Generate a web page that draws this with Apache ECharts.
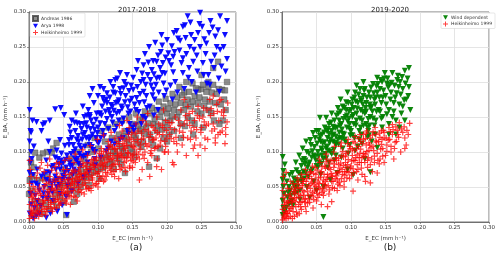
<!DOCTYPE html>
<html>
<head>
<meta charset="utf-8">
<script src="https://cdn.jsdelivr.net/npm/echarts@6/dist/echarts.min.js"></script>
<style>
  html, body { margin: 0; padding: 0; background: #fff; }
  #chart { width: 500px; height: 255px; }
</style>
</head>
<body>
<div id="chart"></div>
<script>
// 2017-2018 panel (a)
const andreas1986 = [
  [.009,.099],[.026,.1],[.033,.099],[.04,.113],[.02,.098],[.035,.105],[.015,.092],[.003,.085],[.001,.06],[.005,.065],[.012,.06],[.02,.062],[0,.04],[.008,.03],
  [.01,.015],[.015,.02],[.02,.012],[.025,.025],[.03,.018],[.035,.03],[.04,.022],[.045,.035],[.05,.028],[.054,.01],[.065,.029],[.055,.04],[.06,.045],[.07,.04],[.075,.05],
  [.03,.05],[.04,.06],[.05,.055],[.06,.065],[.065,.07],[.07,.06],[.075,.075],[.08,.065],[.085,.08],[.09,.07],[.095,.085],[.1,.075],[.105,.09],[.11,.08],[.115,.095],[.12,.085],
  [.125,.1],[.13,.09],[.135,.105],[.139,.07],[.14,.095],[.145,.11],[.15,.1],[.08,.09],[.09,.1],[.1,.105],[.11,.115],[.12,.12],[.13,.125],[.14,.13],[.15,.14],[.16,.145],
  [.07,.085],[.085,.11],[.095,.12],[.105,.13],[.115,.135],[.125,.14],[.135,.145],[.145,.15],[.155,.155],[.06,.09],[.07,.1],[.05,.075],[.045,.05],
  [.155,.12],[.16,.13],[.165,.115],[.17,.135],[.174,.079],[.175,.125],[.18,.14],[.185,.091],[.185,.13],[.19,.15],[.195,.12],[.2,.155],[.2,.135],[.205,.145],[.21,.16],
  [.21,.13],[.215,.15],[.22,.17],[.22,.14],[.225,.16],[.23,.175],[.23,.15],[.235,.165],[.24,.18],[.24,.14],[.245,.17],[.25,.19],[.25,.155],[.255,.175],[.26,.2],[.26,.16],
  [.265,.185],[.274,.229],[.27,.17],[.275,.19],[.267,.22],[.28,.189],[.283,.175],[.285,.16],[.281,.145],[.25,.21],[.287,.2],[.245,.189],[.237,.198],[.26,.193],[.225,.185],
  [.215,.178],[.205,.17],[.195,.165],[.185,.16],[.175,.155],[.165,.15],[.268,.145],[.276,.14],[.252,.135],[.238,.125],[.22,.12],[.19,.105],[.18,.11],[.2,.115],
  [.058,.052],[.063,.057],[.068,.049],[.072,.068],[.078,.058],[.083,.071],[.087,.064],[.092,.079],[.097,.072],[.102,.084],[.107,.077],[.112,.092],[.117,.083],[.122,.101],
  [.127,.094],[.132,.108],[.137,.099],[.142,.118],[.147,.105],[.152,.124],[.157,.112],[.162,.133],[.167,.126],[.172,.141],[.177,.118],[.182,.147],[.187,.138],[.192,.158],
  [.197,.143],[.202,.162],[.207,.151],[.212,.168],[.217,.157],[.222,.181],[.227,.167],[.232,.186],[.237,.172],[.242,.191],[.247,.178],[.252,.196],[.257,.186],[.262,.172],
  [.267,.196],[.272,.183],[.278,.168],[.284,.188],[.118,.107],[.128,.116],[.138,.122],[.148,.131],[.158,.138],[.168,.158],[.178,.163],[.188,.172],[.198,.176],[.208,.183],
  [.218,.193],[.228,.2],[.244,.158],[.254,.166],[.264,.156],[.236,.145],[.226,.137],[.203,.125],[.193,.132],[.163,.107],[.153,.093],[.133,.083],[.123,.076],[.102,.062],
  [.087,.053],[.043,.043],[.038,.039],[.028,.034],[.017,.028],[.006,.009],[.004,.045],[.027,.064],[.007,.078]
];
const arya1998 = [
  [.001,.16],[.002,.13],[.001,.115],[.003,.1],[.002,.085],[.001,.07],[.004,.055],[.002,.04],[.003,.025],[.001,.012],[.005,.145],[.004,.09],
  [.011,.143],[.018,.13],[.023,.141],[.03,.145],[.038,.161],[.046,.163],[.051,.153],[.059,.136],[.07,.141],[.045,.117],[.02,.139],[.06,.128],[.064,.11],[.028,.115],
  [.008,.02],[.012,.03],[.015,.045],[.02,.035],[.022,.05],[.025,.06],[.028,.04],[.03,.07],[.033,.055],[.035,.08],[.038,.065],[.04,.05],[.042,.09],[.045,.075],[.048,.06],
  [.05,.085],[.018,.065],[.012,.075],[.01,.055],[.025,.088],[.03,.1],[.04,.102],[.047,.098],[.055,.01],[.025,.006],[.015,.012],[.035,.03],[.045,.04],
  [.052,.07],[.055,.095],[.058,.11],[.06,.08],[.062,.12],[.065,.1],[.067,.13],[.07,.09],[.072,.115],[.074,.14],[.076,.105],[.078,.125],[.08,.15],[.082,.095],[.084,.135],
  [.086,.16],[.088,.11],[.09,.145],[.092,.125],[.094,.17],[.096,.1],[.098,.155],[.1,.135],[.1,.18],[.057,.06],[.065,.075],[.075,.08],[.085,.085],[.095,.09],[.068,.155],
  [.078,.165],[.088,.18],[.062,.145],[.092,.19],[.083,.12],[.073,.097],[.097,.12],[.088,.15],[.079,.14],[.069,.118],
  [.102,.155],[.104,.12],[.106,.165],[.108,.19],[.11,.14],[.112,.175],[.114,.105],[.116,.16],[.118,.2],[.12,.15],[.122,.185],[.124,.13],[.126,.17],[.128,.205],[.13,.145],
  [.132,.19],[.134,.165],[.136,.12],[.138,.2],[.14,.18],[.142,.21],[.144,.155],[.146,.172],[.148,.195],[.15,.135],[.103,.193],[.113,.184],[.122,.193],[.137,.191],[.125,.203],
  [.132,.213],[.117,.155],[.103,.155],[.088,.153],[.107,.13],[.113,.17],[.13,.174],[.119,.115],[.135,.14],[.127,.155],[.143,.13],[.109,.172],[.121,.165],
  [.151,.189],[.156,.177],[.151,.206],[.156,.217],[.166,.203],[.166,.224],[.166,.186],[.178,.217],[.18,.189],[.185,.229],[.183,.256],[.191,.243],[.192,.267],[.193,.213],
  [.194,.227],[.195,.198],[.155,.16],[.16,.17],[.162,.2],[.165,.15],[.17,.18],[.172,.21],[.175,.165],[.177,.195],[.18,.23],[.182,.175],[.185,.205],[.188,.185],[.19,.22],
  [.196,.18],[.198,.235],[.158,.23],[.168,.24],[.174,.25],[.163,.14],[.187,.16],[.152,.13],[.146,.14],
  [.2,.26],[.202,.241],[.206,.224],[.209,.236],[.209,.214],[.21,.27],[.214,.273],[.219,.259],[.223,.279],[.226,.281],[.223,.234],[.223,.213],[.23,.294],[.233,.25],[.235,.267],
  [.238,.229],[.245,.27],[.248,.299],[.248,.25],[.251,.279],[.252,.227],[.254,.261],[.261,.27],[.264,.229],[.266,.278],[.272,.25],[.277,.294],[.277,.246],[.287,.287],[.287,.233],
  [.205,.195],[.212,.2],[.218,.245],[.228,.24],[.232,.22],[.24,.26],[.244,.215],[.256,.24],[.26,.21],[.268,.22],[.27,.265],[.282,.25],[.215,.185],[.225,.19],[.236,.2],
  [.258,.198],[.285,.215],[.275,.205],[.242,.185],[.208,.175],
  [.031,.047],[.037,.058],[.043,.083],[.049,.066],[.053,.089],[.057,.073],[.061,.097],[.063,.081],[.067,.104],[.069,.087],[.071,.123],[.073,.109],[.077,.118],[.079,.093],
  [.081,.127],[.083,.141],[.087,.118],[.089,.133],[.091,.107],[.093,.139],[.097,.146],[.099,.127],[.101,.113],[.103,.141],[.105,.152],[.107,.177],[.109,.123],[.111,.158],
  [.113,.147],[.115,.133],[.117,.178],[.119,.167],[.121,.142],[.123,.159],[.125,.184],[.127,.136],[.129,.171],[.131,.157],[.133,.183],[.135,.162],[.137,.148],[.139,.171],
  [.141,.196],[.143,.164],[.145,.187],[.147,.158],[.149,.176],[.153,.168],[.157,.193],[.159,.157],[.161,.183],[.164,.212],[.167,.171],[.169,.196],[.171,.163],[.173,.228],
  [.176,.203],[.179,.181],[.181,.211],[.184,.196],[.187,.238],[.189,.206],[.193,.252],[.197,.212],[.199,.188],[.203,.23],[.207,.251],[.211,.243],[.216,.262],[.221,.227],
  [.227,.263],[.231,.206],[.234,.285],[.239,.246],[.243,.238],[.247,.283],[.253,.21],[.257,.255],[.263,.287],[.269,.238],[.274,.274],[.279,.222],[.284,.267],[.276,.186],
  [.262,.196],[.017,.023],[.021,.041],[.027,.033],[.029,.058],[.034,.042],[.039,.075],[.041,.061],[.044,.053],[.047,.082],[.051,.063],[.054,.078],[.056,.052],[.059,.085],
  [.063,.067],[.066,.091],[.068,.072],[.072,.083],[.076,.094],[.081,.108],[.085,.097],[.089,.121],[.093,.103],[.095,.132],[.099,.114],[.084,.152],[.076,.133],[.066,.142],
  [.058,.117],[.052,.109],[.046,.088],[.038,.092],[.033,.078],[.026,.071],[.022,.068],[.013,.052],[.009,.038],[.006,.067],[.007,.108],[.003,.128],[.006,.005],[.011,.009],
  [.031,.012],[.041,.015],[.048,.024],[.054,.036],[.062,.044],[.071,.055],[.079,.064],[.087,.072],[.096,.081],[.104,.092],[.112,.101],[.124,.111],[.132,.118],[.144,.126],
  [.154,.138],[.169,.148],[.181,.152]
];
const heikinheimoA = [
  [.001,.005],[.002,.015],[.001,.025],[.003,.035],[.002,.045],[.001,.055],[.003,.065],[.002,.075],[.001,.088],[.004,.02],[.005,.01],[.004,.04],
  [.008,.005],[.01,.012],[.012,.02],[.014,.008],[.016,.025],[.018,.015],[.02,.03],[.022,.018],[.024,.01],[.026,.035],[.028,.022],[.03,.04],[.032,.028],[.034,.015],
  [.036,.045],[.038,.032],[.04,.02],[.042,.05],[.044,.038],[.046,.027],[.048,.055],[.05,.042],[.01,.04],[.015,.05],[.02,.06],[.025,.055],[.03,.065],[.035,.06],[.04,.07],
  [.045,.065],[.05,.075],[.018,.085],[.03,.09],[.04,.085],[.012,.07],
  [.052,.03],[.054,.048],[.056,.06],[.058,.038],[.06,.052],[.062,.07],[.064,.045],[.066,.058],[.068,.035],[.07,.065],[.072,.05],[.074,.078],[.076,.042],[.078,.06],[.08,.07],
  [.082,.052],[.084,.085],[.086,.065],[.088,.048],[.09,.075],[.092,.06],[.094,.09],[.096,.07],[.098,.055],[.1,.08],[.055,.075],[.065,.085],[.075,.09],[.085,.095],[.095,.1],
  [.06,.025],[.07,.03],[.08,.04],[.09,.045],[.1,.05],[.073,.068],[.083,.075],[.093,.082],[.063,.062],[.053,.055],
  [.102,.065],[.104,.09],[.106,.075],[.108,.058],[.11,.085],[.112,.1],[.114,.07],[.116,.09],[.118,.11],[.12,.08],[.122,.095],[.124,.065],[.126,.105],[.128,.088],[.13,.115],
  [.132,.075],[.134,.098],[.136,.12],[.138,.085],[.14,.105],[.142,.092],[.144,.125],[.146,.08],[.148,.11],[.15,.095],[.105,.105],[.115,.115],[.125,.12],[.135,.13],[.145,.135],
  [.11,.06],[.12,.068],[.13,.062],[.14,.072],[.15,.078],[.108,.08],[.118,.098],[.128,.1],[.138,.11],[.148,.12],
  [.152,.115],[.154,.085],[.156,.1],[.158,.13],[.16,.09],[.162,.11],[.164,.075],[.166,.12],[.168,.1],[.17,.14],[.172,.085],[.174,.11],[.176,.125],[.178,.095],[.18,.135],
  [.182,.105],[.184,.12],[.186,.09],[.188,.14],[.19,.11],[.192,.075],[.194,.125],[.196,.1],[.198,.145],[.2,.12],[.16,.06],[.175,.065],[.155,.14],[.165,.145],[.185,.15],
  [.195,.16],[.185,.079],[.146,.077],[.197,.1],
  [.202,.1],[.205,.135],[.208,.085],[.21,.115],[.212,.15],[.215,.1],[.218,.13],[.22,.16],[.222,.11],[.225,.14],[.228,.095],[.23,.12],[.232,.155],[.235,.13],[.238,.105],
  [.24,.145],[.242,.12],[.245,.165],[.248,.11],[.25,.135],[.252,.15],[.255,.12],[.258,.16],[.26,.14],[.262,.175],[.265,.13],[.268,.155],[.27,.12],[.272,.168],[.275,.145],
  [.278,.175],[.28,.13],[.283,.16],[.285,.125],[.288,.17],[.24,.11],[.255,.105],[.27,.113],[.285,.135],[.245,.095],[.21,.082],[.225,.175],[.267,.18],[.23,.165],[.276,.174],
  [.003,.009],[.005,.029],[.006,.051],[.007,.017],[.009,.033],[.011,.025],[.013,.044],[.015,.016],[.017,.038],[.019,.022],[.021,.047],[.023,.031],[.025,.019],[.027,.043],
  [.029,.057],[.031,.025],[.033,.048],[.035,.037],[.037,.021],[.039,.058],[.041,.042],[.043,.029],[.045,.052],[.047,.046],[.049,.034],[.051,.061],[.053,.041],[.055,.033],
  [.057,.052],[.059,.068],[.061,.044],[.063,.055],[.065,.037],[.067,.072],[.069,.054],[.071,.043],[.073,.061],[.075,.069],[.077,.053],[.079,.081],[.081,.064],[.083,.047],
  [.085,.071],[.087,.059],[.089,.084],[.091,.067],[.093,.052],[.095,.078],[.097,.088],[.099,.069],[.101,.058],[.103,.082],[.105,.097],[.107,.066],[.109,.092],[.111,.071],
  [.113,.086],[.115,.104],[.117,.077],[.119,.089],[.121,.107],[.123,.072],[.125,.083],[.127,.112],[.129,.095],[.131,.082],[.133,.121],[.135,.092],[.137,.104],[.139,.078],
  [.141,.116],[.143,.099],[.147,.093],[.149,.128],[.151,.087],[.153,.106],[.157,.118],[.159,.097],[.163,.127],[.167,.091],[.169,.112],[.173,.13],[.177,.102],[.179,.117],
  [.183,.131],[.187,.108],[.189,.125],[.193,.138],[.197,.115],[.199,.131],[.204,.125],[.207,.142],[.213,.121],[.217,.145],[.223,.128],[.227,.152],[.233,.138],[.237,.158],
  [.243,.132],[.247,.148],[.253,.163],[.257,.138],[.263,.152],[.267,.14],[.273,.158],[.277,.128],[.282,.152],[.287,.143],
  [.011,.063],[.016,.077],[.022,.072],[.027,.081],[.033,.074],[.038,.079],[.044,.083],[.052,.088],[.058,.091],[.067,.097],[.078,.103],[.089,.109],[.099,.118],[.108,.124],
  [.119,.128],[.131,.138],[.142,.145],[.157,.15],[.172,.155],
  [.004,.013],[.006,.037],[.008,.024],[.009,.047],[.012,.014],[.014,.032],[.016,.041],[.019,.011],[.021,.027],[.023,.052],[.024,.038],[.026,.015],[.028,.031],[.029,.046],
  [.032,.019],[.034,.053],[.036,.028],[.038,.047],[.041,.033],[.042,.062],[.044,.024],[.046,.058],[.048,.041],[.051,.049],[.053,.068],[.054,.027],[.056,.043],[.058,.061],
  [.061,.036],[.062,.057],[.064,.074],[.066,.049],[.068,.063],[.071,.058],[.072,.074],[.074,.046],[.076,.064],[.078,.084],[.081,.056],[.082,.069],[.084,.079],[.086,.048],
  [.088,.076],[.091,.089],[.092,.063],[.094,.081],[.096,.054],[.098,.092],[.101,.072],[.102,.098],[.104,.062],[.106,.084],[.108,.101],[.111,.079],[.112,.065],[.114,.094],
  [.116,.108],[.118,.074],[.121,.091],[.122,.082],[.124,.104],[.126,.075],[.128,.093],[.131,.108],[.132,.096],[.134,.077],[.136,.112],[.138,.093],[.141,.087],[.142,.109],
  [.144,.098],[.146,.118],[.148,.088],[.151,.108],[.152,.097],[.154,.126],[.156,.092],[.158,.113],[.161,.104],[.163,.118],[.165,.096],[.168,.132],[.171,.108],[.174,.121],
  [.176,.098],[.178,.138],[.181,.118],[.184,.106],[.186,.128],[.191,.116],[.194,.135],[.198,.108],[.203,.142],[.206,.119],[.211,.132],[.214,.112],[.219,.138],[.224,.121],
  [.229,.145],[.234,.118],[.239,.135],[.244,.152],[.249,.128],[.254,.143],[.259,.118],[.264,.162],[.269,.133],[.274,.125],[.279,.157],[.284,.112]
];

// 2019-2020 panel (b)
const windDependent = [
  [.001,.01],[.002,.02],[.001,.03],[.003,.04],[.002,.05],[.001,.06],[.002,.073],[.001,.093],[.004,.015],[.003,.065],
  [.006,.02],[.008,.035],[.01,.025],[.012,.045],[.014,.03],[.016,.055],[.018,.04],[.02,.06],[.022,.05],[.024,.07],[.026,.045],[.028,.08],[.03,.06],[.032,.09],[.034,.07],
  [.036,.1],[.038,.065],[.04,.085],[.042,.11],[.044,.075],[.046,.095],[.048,.12],[.05,.08],[.041,.117],[.055,.149],[.05,.13],[.045,.127],[.035,.115],[.03,.105],[.025,.095],
  [.02,.085],[.015,.07],[.01,.05],[.04,.035],[.05,.045],[.06,.05],[.07,.06],[.08,.07],[.095,.075],[.103,.067],[.128,.071],[.138,.106],[.12,.09],
  [.052,.1],[.054,.085],[.056,.115],[.058,.125],[.06,.09],[.062,.135],[.064,.105],[.066,.12],[.068,.14],[.07,.1],[.072,.13],[.074,.115],[.076,.145],[.078,.11],[.08,.135],
  [.082,.155],[.084,.12],[.086,.14],[.088,.165],[.09,.125],[.092,.15],[.094,.135],[.096,.17],[.098,.14],[.1,.16],[.081,.163],[.09,.163],[.064,.149],[.058,.095],[.068,.085],
  [.078,.095],[.088,.105],[.098,.11],[.06,.007],[.072,.155],[.085,.175],[.095,.185],[.1,.13],[.065,.13],[.075,.125],[.083,.145],[.093,.16],[.057,.105],[.053,.13],[.07,.118],
  [.102,.175],[.104,.14],[.106,.185],[.108,.155],[.11,.17],[.112,.13],[.113,.19],[.114,.16],[.116,.145],[.118,.18],[.12,.19],[.12,.155],[.122,.17],[.124,.135],[.126,.185],
  [.128,.15],[.13,.165],[.132,.197],[.134,.175],[.136,.145],[.138,.206],[.138,.185],[.14,.16],[.142,.19],[.144,.17],[.146,.15],[.148,.205],[.149,.213],[.15,.18],[.105,.12],
  [.115,.125],[.125,.13],[.135,.125],[.145,.135],[.11,.108],[.13,.115],[.139,.197],[.128,.178],[.108,.195],[.118,.2],[.102,.15],[.122,.14],
  [.152,.198],[.155,.16],[.158,.185],[.16,.213],[.162,.17],[.165,.145],[.166,.184],[.168,.209],[.17,.168],[.171,.2],[.173,.155],[.175,.19],[.178,.216],[.18,.175],[.183,.18],
  [.184,.193],[.184,.22],[.186,.16],[.155,.14],[.16,.15],[.17,.135],[.178,.145],[.163,.195],[.157,.175],[.153,.205],[.175,.165],[.145,.2],[.165,.125],[.155,.125],
  [.013,.038],[.017,.062],[.019,.048],[.021,.074],[.023,.058],[.027,.067],[.029,.088],[.031,.072],[.033,.083],[.037,.078],[.039,.098],[.043,.092],[.047,.107],[.049,.088],
  [.051,.112],[.053,.094],[.055,.123],[.057,.083],[.059,.112],[.061,.128],[.063,.097],[.065,.108],[.067,.133],[.069,.113],[.071,.142],[.073,.123],[.075,.103],[.077,.134],
  [.079,.152],[.081,.118],[.083,.128],[.085,.158],[.087,.132],[.089,.147],[.091,.118],[.093,.171],[.095,.144],[.097,.158],[.099,.124],[.101,.168],[.103,.153],[.105,.178],
  [.107,.138],[.109,.162],[.111,.182],[.113,.148],[.115,.173],[.117,.157],[.119,.188],[.121,.163],[.123,.178],[.125,.147],[.127,.168],[.129,.192],[.131,.158],[.133,.184],
  [.135,.168],[.137,.194],[.141,.178],[.143,.203],[.147,.188],[.151,.168],[.154,.192],[.159,.199],[.164,.178],[.169,.193],[.174,.207],[.179,.198],[.106,.102],[.116,.112],
  [.096,.098],[.086,.092],[.076,.088],[.066,.078],[.056,.068],[.046,.058],[.036,.05],[.026,.032],[.016,.024],[.009,.042],[.007,.058],[.004,.082],[.011,.067],[.124,.121],
  [.134,.138],[.144,.148],[.114,.135],
  [.012,.028],[.018,.052],[.022,.042],[.028,.058],[.032,.062],[.034,.088],[.038,.082],[.042,.072],[.044,.101],[.048,.093],[.052,.078],[.054,.118],[.058,.102],[.062,.114],
  [.064,.091],[.068,.126],[.072,.097],[.074,.136],[.078,.122],[.082,.111],[.084,.138],[.088,.126],[.092,.114],[.094,.152],[.098,.133],[.102,.124],[.104,.163],[.108,.145],
  [.112,.118],[.114,.176],[.118,.138],[.122,.158],[.126,.124],[.128,.163],[.132,.148],[.136,.178],[.142,.158],[.146,.178],[.152,.154],[.156,.196],[.162,.158],[.167,.203],
  [.172,.182],[.177,.174],[.182,.205],[.087,.119],[.077,.113],[.067,.102],[.097,.148],[.107,.172],[.117,.168],[.127,.138],[.137,.158]
];
const heikinheimoB = [
  [.001,.003],[.002,.01],[.001,.018],[.003,.025],[.002,.035],[.001,.045],[.003,.055],[.002,.065],[.004,.008],[.005,.015],
  [.006,.005],[.008,.012],[.01,.02],[.012,.008],[.014,.028],[.016,.015],[.018,.035],[.02,.022],[.022,.01],[.024,.04],[.026,.028],[.028,.018],[.03,.045],[.032,.033],[.034,.022],
  [.036,.05],[.038,.038],[.04,.028],[.042,.055],[.044,.042],[.046,.032],[.048,.06],[.05,.046],[.012,.04],[.018,.05],[.024,.058],[.03,.062],[.036,.068],[.042,.072],[.048,.078],
  [.01,.03],[.02,.045],[.03,.055],[.04,.065],[.015,.005],[.025,.012],[.035,.015],[.045,.02],[.05,.03],
  [.052,.035],[.054,.055],[.056,.07],[.058,.042],[.06,.06],[.062,.08],[.064,.05],[.066,.068],[.068,.04],[.07,.075],[.072,.029],[.072,.058],[.074,.088],[.076,.048],[.078,.07],
  [.08,.06],[.082,.082],[.084,.052],[.086,.095],[.088,.068],[.09,.058],[.092,.085],[.094,.072],[.096,.1],[.098,.062],[.1,.08],[.055,.085],[.065,.09],[.075,.1],[.085,.108],
  [.095,.112],[.06,.038],[.08,.045],[.09,.05],[.073,.065],[.083,.072],[.093,.078],[.063,.058],[.053,.05],[.057,.025],[.066,.022],
  [.102,.095],[.104,.07],[.103,.044],[.106,.088],[.108,.105],[.11,.075],[.112,.092],[.114,.115],[.116,.068],[.118,.098],[.12,.085],[.122,.11],[.124,.078],[.126,.102],[.128,.12],
  [.128,.056],[.13,.09],[.132,.108],[.134,.085],[.136,.125],[.138,.07],[.138,.098],[.14,.115],[.142,.09],[.144,.13],[.146,.105],[.148,.12],[.15,.095],[.135,.135],[.145,.118],
  [.11,.06],[.12,.065],[.148,.085],[.115,.085],[.125,.092],[.103,.115],[.113,.125],[.123,.13],
  [.152,.11],[.155,.135],[.158,.1],[.16,.125],[.16,.139],[.162,.09],[.165,.136],[.166,.115],[.17,.142],[.172,.1],[.175,.128],[.178,.12],[.18,.11],[.183,.125],[.185,.141],
  [.168,.125],[.156,.118],[.163,.105],
  [.003,.006],[.004,.022],[.005,.039],[.007,.013],[.009,.027],[.011,.016],[.013,.034],[.015,.022],[.017,.043],[.019,.029],[.021,.014],[.023,.048],[.025,.035],[.027,.022],
  [.029,.052],[.031,.038],[.033,.028],[.035,.058],[.037,.044],[.039,.033],[.041,.048],[.043,.062],[.045,.037],[.047,.053],[.049,.068],[.051,.041],[.053,.063],[.055,.047],
  [.057,.072],[.059,.055],[.061,.044],[.063,.077],[.065,.061],[.067,.052],[.069,.083],[.071,.066],[.073,.049],[.075,.078],[.077,.062],[.079,.088],[.081,.071],[.083,.057],
  [.085,.084],[.087,.075],[.089,.093],[.091,.067],[.093,.098],[.095,.082],[.097,.071],[.099,.105],[.101,.087],[.103,.076],[.105,.102],[.107,.092],[.109,.082],[.111,.108],
  [.113,.098],[.115,.077],[.117,.112],[.119,.094],[.121,.119],[.123,.101],[.127,.11],[.131,.124],[.133,.102],[.137,.114],[.141,.127],[.143,.104],[.147,.131],[.151,.12],
  [.157,.129],[.167,.131],[.177,.136],[.141,.083],[.131,.072],[.121,.058],[.016,.055],[.022,.063],[.028,.068],[.034,.075],[.044,.08],[.054,.09],[.064,.097],[.076,.108],
  [.086,.113],[.096,.118],[.106,.122],[.118,.125],[.008,.048],[.006,.071],[.012,.058],
  [.004,.03],[.006,.012],[.007,.028],[.009,.006],[.011,.037],[.013,.019],[.014,.047],[.016,.031],[.018,.008],[.019,.041],[.021,.034],[.022,.054],[.024,.025],[.026,.049],
  [.027,.038],[.029,.029],[.031,.058],[.032,.043],[.034,.033],[.036,.062],[.037,.027],[.039,.052],[.041,.071],[.042,.038],[.044,.057],[.046,.069],[.047,.044],[.049,.051],
  [.051,.074],[.052,.057],[.054,.039],[.056,.064],[.058,.079],[.059,.048],[.061,.068],[.062,.053],[.064,.086],[.066,.064],[.068,.077],[.069,.046],[.071,.088],[.072,.069],
  [.074,.058],[.076,.083],[.078,.092],[.079,.066],[.081,.054],[.082,.091],[.084,.077],[.086,.062],[.088,.101],[.089,.081],[.091,.072],[.092,.094],[.094,.063],[.096,.089],
  [.098,.108],[.099,.077],[.101,.067],[.102,.104],[.104,.088],[.106,.113],[.108,.072],[.109,.096],[.111,.119],[.112,.085],[.114,.104],[.116,.092],[.118,.118],[.121,.097],
  [.122,.127],[.124,.088],[.126,.113],[.128,.082],[.129,.106],[.132,.129],[.134,.094],[.136,.116],[.139,.088],[.142,.121],[.144,.111],[.146,.094],[.148,.128],[.152,.101],
  [.154,.117],[.158,.108],[.161,.132],[.164,.114],[.169,.121],[.173,.133],[.181,.131],[.178,.105]
];

const tickStep = 0.05;
const axisMax = 0.3;
const plusIcon = "path://M4,0H6V4H10V6H6V10H4V6H0V4H4Z";
const downTri = "path://M0,0L10,0L5,9Z";
const font = "DejaVu Sans";

function makeAxis(idx, isY) {
  return {
    gridIndex: idx, type: "value", min: 0, max: axisMax, interval: tickStep,
    name: isY ? "E_BA, (mm h\u207B\u00B9)" : "E_EC (mm h\u207B\u00B9)",
    nameLocation: "middle", nameGap: isY ? 20 : 11, nameRotate: isY ? 90 : 0,
    nameTextStyle: { fontSize: 5.5, color: "#333", fontFamily: font },
    axisLine: { show: true, onZero: false, lineStyle: { color: "#555", width: 0.8 } },
    axisTick: { show: true, length: 2, lineStyle: { color: "#555", width: 0.6 } },
    axisLabel: { fontSize: 5.5, color: "#333", fontFamily: font, margin: 3, formatter: v => v.toFixed(2) },
    splitLine: { show: true, lineStyle: { color: "#dedede", width: 0.8 } }
  };
}
function legendBox(left, top, names) {
  return {
    data: names, left: left, top: top, orient: "vertical",
    itemWidth: 5, itemHeight: 5, itemGap: 1.5, padding: [2, 3, 2, 2],
    backgroundColor: "#fff", borderColor: "#ccc", borderWidth: 0.5, borderRadius: 1,
    textStyle: { fontSize: 4.5, color: "#333", fontFamily: font, padding: [0, 0, 0, -2] },
    selectedMode: false
  };
}
function titleText(text, x, y, size) {
  return { text: text, left: x, top: y, textAlign: "center",
    textStyle: { fontSize: size, fontWeight: "normal", color: "#222", fontFamily: font } };
}

const chart = echarts.init(document.getElementById("chart"), null, { renderer: "canvas" });
chart.setOption({
  backgroundColor: "#fff",
  animation: false,
  title: [
    titleText("2017-2018", 132, 2, 7),
    titleText("2019-2020", 385, 2, 7),
    titleText("(a)", 131, 238, 9),
    titleText("(b)", 385, 238, 9)
  ],
  legend: [
    legendBox(30, 13, ["Andreas 1986", "Arya 1998", "Heikinheimo 1999"]),
    legendBox(441, 13, ["Wind dependent", "Heikinheimo 1999"])
  ],
  grid: [
    { left: 29, top: 12, width: 207, height: 210, show: true, borderColor: "#555", borderWidth: 0.8, backgroundColor: "transparent" },
    { left: 282, top: 12, width: 207, height: 210, show: true, borderColor: "#555", borderWidth: 0.8, backgroundColor: "transparent" }
  ],
  xAxis: [makeAxis(0, false), makeAxis(1, false)],
  yAxis: [makeAxis(0, true), makeAxis(1, true)],
  series: [
    { name: "Andreas 1986", type: "scatter", xAxisIndex: 0, yAxisIndex: 0, data: andreas1986,
      symbol: "rect", symbolSize: 5.5, itemStyle: { color: "#6f6f6f", borderColor: "#3c3c3c", borderWidth: 0.5 } },
    { name: "Arya 1998", type: "scatter", xAxisIndex: 0, yAxisIndex: 0, data: arya1998,
      symbol: downTri, symbolSize: 6, itemStyle: { color: "#0000ff", opacity: 0.95 } },
    { name: "Heikinheimo 1999", type: "scatter", xAxisIndex: 0, yAxisIndex: 0, data: heikinheimoA,
      symbol: plusIcon, symbolSize: 6, itemStyle: { color: "#ff0000", opacity: 0.75 } },
    { name: "Wind dependent", type: "scatter", xAxisIndex: 1, yAxisIndex: 1, data: windDependent,
      symbol: downTri, symbolSize: 6, itemStyle: { color: "#008000", opacity: 0.95 } },
    { name: "Heikinheimo 1999", type: "scatter", xAxisIndex: 1, yAxisIndex: 1, data: heikinheimoB,
      symbol: plusIcon, symbolSize: 6, itemStyle: { color: "#ff0000", opacity: 0.75 } }
  ]
});
</script>
</body>
</html>
